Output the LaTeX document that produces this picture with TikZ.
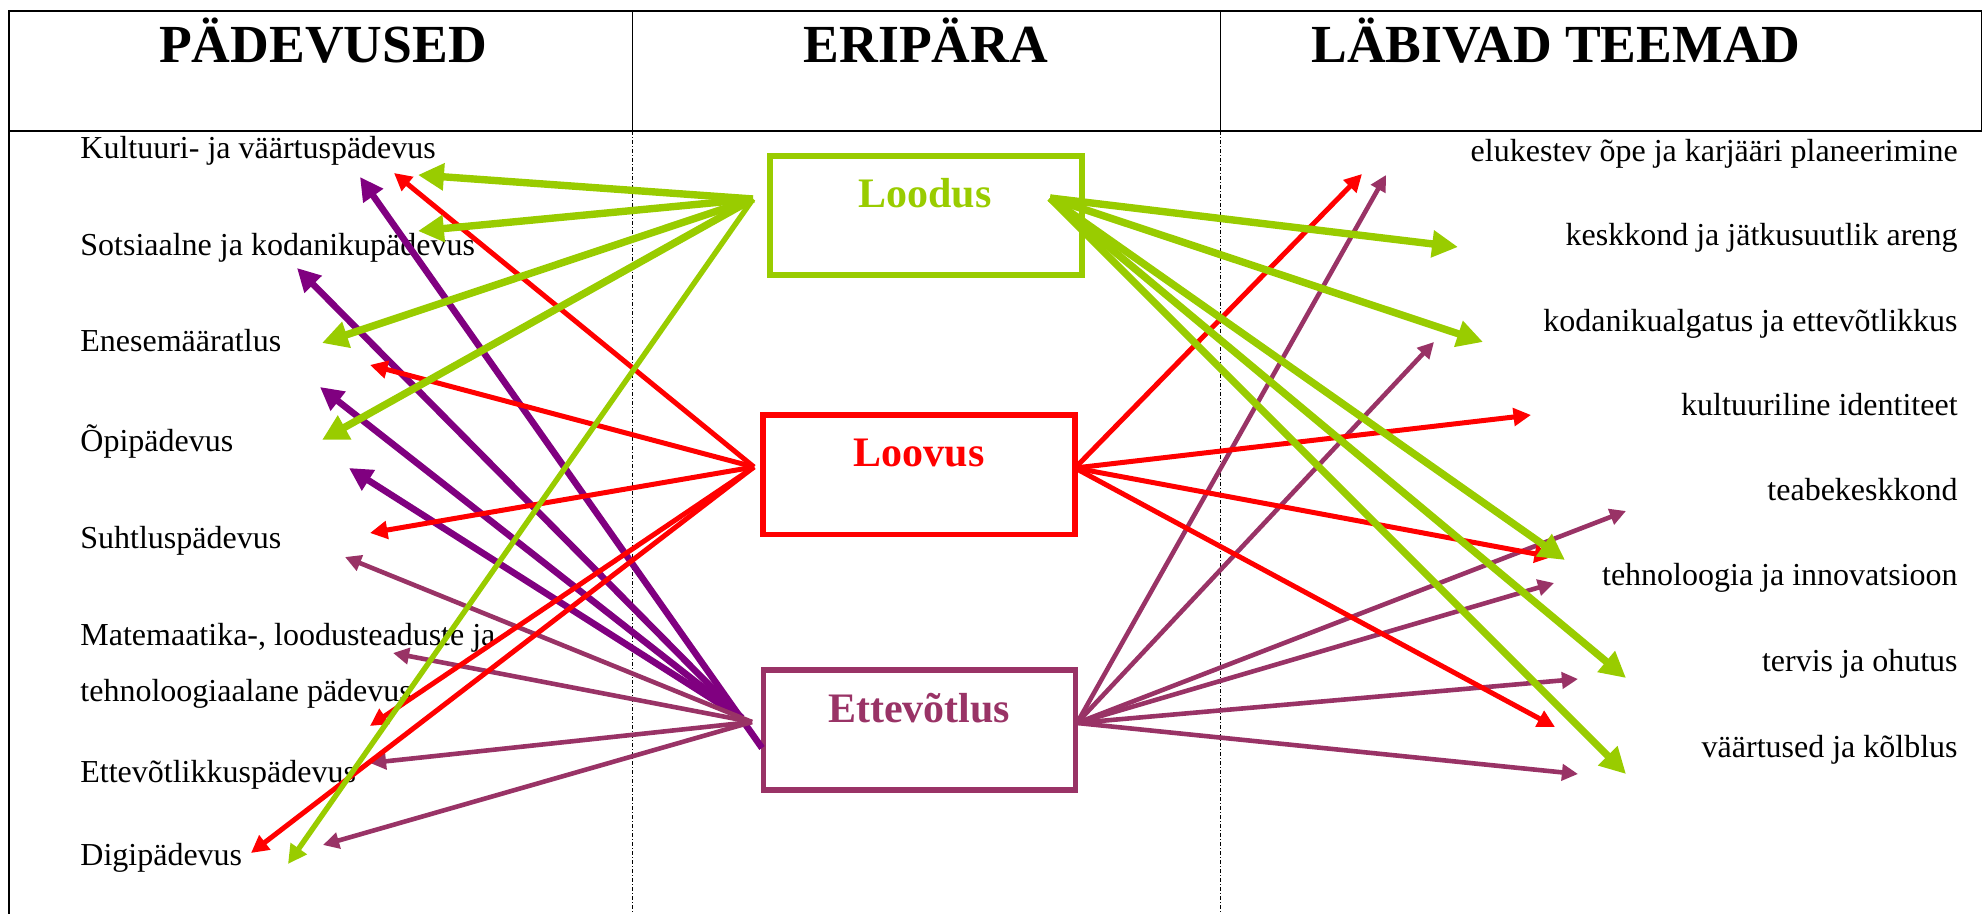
\documentclass[tikz,border=0pt]{standalone}
\usepackage{fontspec}
\setmainfont{Liberation Serif}
\usetikzlibrary{arrows.meta}
\definecolor{lgreen}{HTML}{99CC00}
\definecolor{lred}{HTML}{FF0000}
\definecolor{plum}{HTML}{993366}
\definecolor{purp}{HTML}{800080}
\tikzset{
 box/.style={draw, line width=2.6pt, inner sep=0pt, minimum width=156pt, minimum height=59.75pt},
 boxtext/.style={font=\bfseries\fontsize{21}{25}\selectfont, anchor=base, inner sep=0pt},
 head/.style={font=\bfseries\fontsize{26.8}{30}\selectfont, anchor=base, inner sep=0pt},
 lab/.style={font=\fontsize{16}{19}\selectfont, anchor=base west, inner sep=0pt},
 rlab/.style={font=\fontsize{16}{19}\selectfont, anchor=base east, inner sep=0pt},
 arr/.style={-{Triangle[length=0pt 3.5,width=0pt 3.5]}},
 garr/.style={arr, draw=lgreen, line width=3.7pt},
 garrthin/.style={arr, draw=lgreen, line width=2.7pt},
 rarr/.style={arr, draw=lred, line width=2.5pt},
 parr/.style={arr, draw=purp, line width=3.3pt},
 marr/.style={arr, draw=plum, line width=2.3pt},
 frame/.style={line width=1.15pt},
 divider/.style={line width=0.5pt},
 dashdiv/.style={line width=0.5pt, dash pattern=on 2pt off 1pt on 0.5pt off 1pt},
}
\begin{document}
\begin{tikzpicture}[x=0.5pt,y=-0.5pt]
\useasboundingbox (0,0) rectangle (1982,914);
% table frame
\draw[frame] (9,914) -- (9,11) -- (1982,11);
\draw[divider] (1981,11) -- (1981,131);
\draw[line width=1.35pt] (9,131) -- (1982,131);
\draw[divider] (632,11) -- (632,131);
\draw[divider] (1220,11) -- (1220,131);
\draw[dashdiv] (632,131) -- (632,914);
\draw[dashdiv] (1220,131) -- (1220,914);
% headers
\node[head] (h1) at (323,63) {PÄDEVUSED};
\node[head] (h2) at (926,63) {ERIPÄRA};
\node[head] (h3) at (1556,63) {LÄBIVAD TEEMAD};
% left labels
\node[lab] (l1) at (80,159) {Kultuuri- ja väärtuspädevus};
\node[lab] (l2) at (80,256) {Sotsiaalne ja kodanikupädevus};
\node[lab] (l3) at (80,352) {Enesemääratlus};
\node[lab] (l4) at (80,452) {Õpipädevus};
\node[lab] (l5) at (80,548) {Suhtluspädevus};
\node[lab] (l6) at (80,646) {Matemaatika-, loodusteaduste ja};
\node[lab] (l6b) at (80,701) {tehnoloogiaalane pädevus};
\node[lab] (l7) at (80,782) {Ettevõtlikkuspädevus};
\node[lab] (l8) at (80,865) {Digipädevus};
% right labels
\node[rlab] (t1) at (1958,162) {elukestev õpe ja karjääri planeerimine};
\node[rlab] (t2) at (1958,246) {keskkond ja jätkusuutlik areng};
\node[rlab] (t3) at (1958,332) {kodanikualgatus ja ettevõtlikkus};
\node[rlab] (t4) at (1958,416) {kultuuriline identiteet};
\node[rlab] (t5) at (1958,501) {teabekeskkond};
\node[rlab] (t6) at (1958,585) {tehnoloogia ja innovatsioon};
\node[rlab] (t7) at (1958,671) {tervis ja ohutus};
\node[rlab] (t8) at (1958,757) {väärtused ja kõlblus};
% boxes
\node[box, draw=lgreen, minimum height=59.5pt] (loodus) at (926,215.5) {};
\node[boxtext, text=lgreen] (loodusT) at (925,208) {Loodus};
\node[box, draw=lred] (loovus) at (919,474.75) {};
\node[boxtext, text=lred] (loovusT) at (919,467) {Loovus};
\node[box, draw=plum, minimum height=60pt] (ettev) at (919.5,730) {};
\node[boxtext, text=plum] (ettevT) at (919,722) {Ettevõtlus};
% anchor coordinates
\coordinate (gL) at (753,199);
\coordinate (gR) at (1050,198);
\coordinate (rL) at (754,467);
\coordinate (rR) at (1075,468);
\coordinate (pL) at (742,718);
\coordinate (pK0) at (762,748);
\coordinate (mL) at (752,722);
\coordinate (mR) at (1077,723);
% tips
\coordinate (gK) at (418,175);
\coordinate (gS) at (418,231);
\coordinate (gE) at (322,343);
\coordinate (gO) at (322,440);
\coordinate (gD) at (288,864);
\coordinate (gKe) at (1458,247);
\coordinate (gKo) at (1483,342);
\coordinate (gTe) at (1565,560);
\coordinate (gTv) at (1626,678);
\coordinate (gVa) at (1626,774);
\coordinate (rK) at (394,173);
\coordinate (rE) at (370,365);
\coordinate (rS) at (370,533);
\coordinate (rM) at (370,726);
\coordinate (rD) at (251,853);
\coordinate (rEl) at (1362,174);
\coordinate (rKu) at (1531,415);
\coordinate (rTe) at (1552,557);
\coordinate (rTv) at (1555,727);
\coordinate (pK) at (360,177);
\coordinate (pS) at (297,268);
\coordinate (pE) at (320,387);
\coordinate (pO) at (349,468);
\coordinate (mS) at (345,557);
\coordinate (mM) at (393,653);
\coordinate (mE) at (370,763);
\coordinate (mD) at (323,845);
\coordinate (mEl) at (1386,175);
\coordinate (mKo) at (1434,342);
\coordinate (mTa) at (1626,511);
\coordinate (mTe) at (1554,583);
\coordinate (mTv) at (1578,679);
\coordinate (mVa) at (1578,774);
% purple arrows
\draw[parr] (pK0) -- (pK);
\draw[parr] (pL) -- (pS);
\draw[parr] (pL) -- (pE);
\draw[parr] (pL) -- (pO);
% plum arrows
\draw[marr] (mL) -- (mS);
\draw[marr] (mL) -- (mM);
\draw[marr] (mL) -- (mE);
\draw[marr] (mL) -- (mD);
\draw[marr] (mR) -- (mEl);
\draw[marr] (mR) -- (mKo);
\draw[marr] (mR) -- (mTa);
\draw[marr] (mR) -- (mTe);
\draw[marr] (mR) -- (mTv);
\draw[marr] (mR) -- (mVa);
% red arrows
\draw[rarr] (rL) -- (rK);
\draw[rarr] (rL) -- (rE);
\draw[rarr] (rL) -- (rS);
\draw[rarr] (rL) -- (rM);
\draw[rarr] (rL) -- (rD);
\draw[rarr] (rR) -- (rEl);
\draw[rarr] (rR) -- (rKu);
\draw[rarr] (rR) -- (rTe);
\draw[rarr] (rR) -- (rTv);
% green arrows
\draw[garr] (gL) -- (gK);
\draw[garr] (gL) -- (gS);
\draw[garr] (gL) -- (gE);
\draw[garr] (gL) -- (gO);
\draw[garrthin] (gL) -- (gD);
\draw[garr] (gR) -- (gKe);
\draw[garr] (gR) -- (gKo);
\draw[garr] (gR) -- (gTe);
\draw[garr] (gR) -- (gTv);
\draw[garr] (gR) -- (gVa);
\end{tikzpicture}
\end{document}
